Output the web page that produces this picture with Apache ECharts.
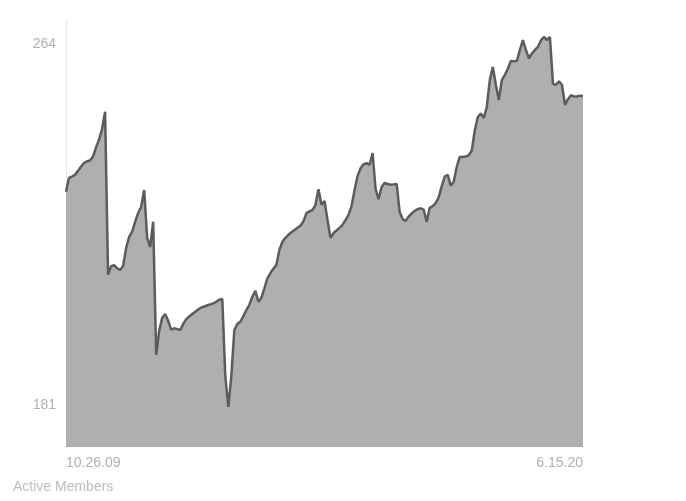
<!DOCTYPE html>
<html>
<head>
<meta charset="utf-8">
<script src="https://cdn.jsdelivr.net/npm/echarts@6/dist/echarts.min.js"></script>
<style>
  html, body { margin: 0; padding: 0; background: #fff; }
  #chart { width: 686px; height: 501px; }
</style>
</head>
<body>
<div id="chart"></div>
<script>
// 起止日期 (x 轴只标首尾)
var startDate = '2009-10-26';
var endDate = '2020-06-15';

// y 轴显示的两个刻度
var yTicks = [181, 264];

// 会员数
var members = [
	230.0, 233.2, 233.5, 233.9, 234.8, 235.8, 236.6, 237.0, 237.2, 238.1,
	240.2, 242.0, 244.4, 248.4, 210.9, 212.9, 213.1, 212.4, 212.0, 212.9,
	217.1, 219.6, 220.8, 223.1, 225.1, 226.5, 230.4, 219.4, 217.3, 223.1,
	192.5, 198.0, 201.0, 201.9, 200.3, 198.3, 198.6, 198.4, 198.2, 199.6,
	200.7, 201.3, 201.9, 202.4, 202.9, 203.4, 203.6, 203.9, 204.1, 204.3,
	204.7, 205.2, 205.3, 187.6, 180.5, 187.6, 198.2, 199.6, 200.1, 201.4,
	202.8, 204.0, 205.9, 207.2, 204.7, 205.6, 207.8, 210.1, 211.3, 212.3,
	213.2, 216.6, 218.5, 219.4, 220.1, 220.7, 221.2, 221.7, 222.2, 223.2,
	225.1, 225.5, 225.8, 227.0, 230.6, 227.0, 227.9, 223.5, 219.4, 220.5,
	221.1, 221.7, 222.4, 223.5, 224.7, 226.7, 230.4, 233.6, 235.4, 236.3,
	236.6, 236.2, 238.9, 230.6, 228.3, 231.1, 232.0, 231.8, 231.6, 231.7,
	231.8, 225.4, 223.7, 223.3, 224.3, 225.0, 225.6, 226.0, 226.2, 225.9,
	223.1, 226.3, 226.7, 227.4, 228.7, 231.3, 233.5, 233.9, 231.4, 232.3,
	235.7, 238.0, 238.0, 238.1, 238.4, 239.5, 244.1, 247.2, 248.0, 247.0,
	249.5, 255.7, 258.7, 254.6, 251.1, 255.7, 256.9, 258.3, 260.1, 260.0,
	260.1, 262.6, 264.9, 262.6, 260.7, 261.8, 262.6, 263.3, 264.8, 265.6,
	264.9, 265.6, 254.9, 254.6, 255.4, 254.6, 250.0, 251.3, 252.2, 251.9,
	251.9, 252.1, 252.0
];

// 日期类目: 起止之间平均分布
function GetDates(){
	var res = [];
	var t0 = Date.parse(startDate + 'T00:00:00Z');
	var t1 = Date.parse(endDate + 'T00:00:00Z');
	var n = members.length - 1;
	for(var i = 0; i <= n; i++){
		var d = new Date(t0 + (t1 - t0) * i / n);
		res.push((d.getUTCMonth() + 1) + '.' + d.getUTCDate() + '.' + String(d.getUTCFullYear()).slice(2));
	}
	return res;
}

var dates = GetDates();
var chart = echarts.init(document.getElementById('chart'));
chart.setOption({
	animation: false,
	textStyle: { fontFamily: 'Liberation Sans' },
	title: {
		text: 'Active Members',
		left: 8, bottom: 2,
		textStyle: { fontSize: 14, fontWeight: 'normal', color: '#bdbdbd' }
	},
	grid: { left: 66, right: 103, top: 20, bottom: 54 },
	xAxis: {
		type: 'category',
		data: dates,
		boundaryGap: false,
		axisLine: { show: false },
		axisTick: { show: false },
		axisLabel: {
			interval: function(i){ return i === 0 || i === dates.length - 1; },
			alignMinLabel: 'left',
			alignMaxLabel: 'right',
			color: '#b0b0b0',
			fontSize: 14,
			margin: 9
		},
		splitLine: { show: false }
	},
	yAxis: {
		type: 'value',
		min: 171.3, max: 269.5,
		axisLine: { show: true, lineStyle: { color: '#e2e2e2', type: 'dotted' } },
		axisTick: { show: false },
		axisLabel: {
			customValues: yTicks,
			color: '#b0b0b0',
			fontSize: 14,
			margin: 10
		},
		splitLine: { show: false }
	},
	series: [{
		type: 'line',
		data: members,
		symbol: 'none',
		lineStyle: { color: '#5c5c5c', width: 2.5 },
		areaStyle: { color: '#afafaf', opacity: 1 }
	}]
});
</script>
</body>
</html>
